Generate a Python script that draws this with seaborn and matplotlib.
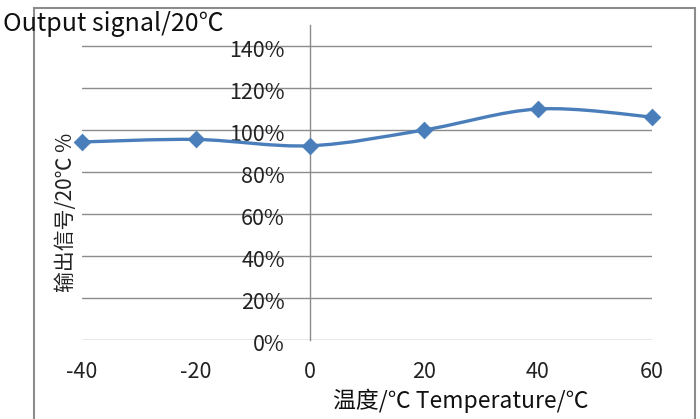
import numpy as np
import pandas as pd
import seaborn as sns
import matplotlib.pyplot as plt
from matplotlib.path import Path
from matplotlib.patches import PathPatch, Rectangle
from matplotlib.transforms import ScaledTranslation

# values
temps = [-40, -20, 0, 20, 40, 60]
signal = [0.943, 0.955, 0.925, 1.0, 1.10, 1.062]
y_ticks = [0, 0.2, 0.4, 0.6, 0.8, 1.0, 1.2, 1.4]
y_tick_labels = ['0%', '20%', '40%', '60%', '80%', '100%', '120%', '140%']

df = pd.DataFrame({'temp': temps, 'signal': signal})

sns.set_style('white')
plt.rcParams['font.family'] = ['Noto Sans CJK SC', 'DejaVu Sans']

blue = '#4a7ebb'
grid_c = '#8c8c8c'

fig = plt.figure(figsize=(7, 4.19), dpi=100)
ax = fig.add_axes([82/700, 79/419, (652-82)/700, (340-25)/419])

# Excel-like smoothed line: cubic bezier segments through the data points
x = np.array(temps, float)
y = np.array(signal, float)
verts = [(x[0], y[0])]
codes = [Path.MOVETO]
n = len(x)
for i in range(n - 1):
    p0 = max(i - 1, 0)
    p3 = min(i + 2, n - 1)
    c1 = (x[i] + (x[i+1] - x[p0]) / 6, y[i] + (y[i+1] - y[p0]) / 6)
    c2 = (x[i+1] - (x[p3] - x[i]) / 6, y[i+1] - (y[p3] - y[i]) / 6)
    verts += [c1, c2, (x[i+1], y[i+1])]
    codes += [Path.CURVE4] * 3
ax.add_patch(PathPatch(Path(verts, codes), facecolor='none', edgecolor=blue,
                       lw=2.4, clip_on=False, zorder=3))

sns.scatterplot(data=df, x='temp', y='signal', ax=ax, marker='D', s=70,
                color=blue, edgecolor=blue, clip_on=False, zorder=4)

ax.set_xlim(-40, 60)
ax.set_ylim(0, 1.5)
ax.set_xticks([-40, -20, 0, 20, 40, 60])
ax.set_xticklabels(['-40', '-20', '0', '20', '40', '60'])
ax.set_yticks(y_ticks)
ax.set_yticklabels(y_tick_labels)
ax.yaxis.grid(True, color=grid_c, lw=1.0)
ax.set_axisbelow(True)
for s in ['top', 'right', 'bottom']:
    ax.spines[s].set_visible(False)
ax.spines['left'].set_position(('data', 0))
ax.spines['left'].set_color(grid_c)
ax.spines['left'].set_linewidth(1.0)
ax.tick_params(axis='x', length=0, pad=15, labelsize=15.5, colors='#222222')
ax.tick_params(axis='y', length=0, pad=18, labelsize=15.5, colors='#222222')
# y labels sit a touch below their gridlines, as in the original
for lab in ax.get_yticklabels():
    lab.set_transform(lab.get_transform() + ScaledTranslation(0, -2/72, fig.dpi_scale_trans))
ax.set_xlabel('')
ax.set_ylabel('')

# outer chart border
fig.patches.append(Rectangle((34/700, -0.05), (695-34)/700, 1.05 - 8/419,
                             transform=fig.transFigure, fill=False,
                             edgecolor='#8c8c8c', lw=1.5))

fig.text(3/700, 1 - 24/419, 'Output signal/20℃', fontsize=18,
         va='center', ha='left', color='#111111')
fig.text(66/700, 1 - 212/419, '输出信号/20℃ %', fontsize=15, rotation=90,
         va='center', ha='center', color='#222222')
fig.text(461/700, 1 - 401/419, '温度/℃ Temperature/℃', fontsize=16.5,
         va='center', ha='center', color='#111111')

fig.savefig('out.png', dpi=100)
